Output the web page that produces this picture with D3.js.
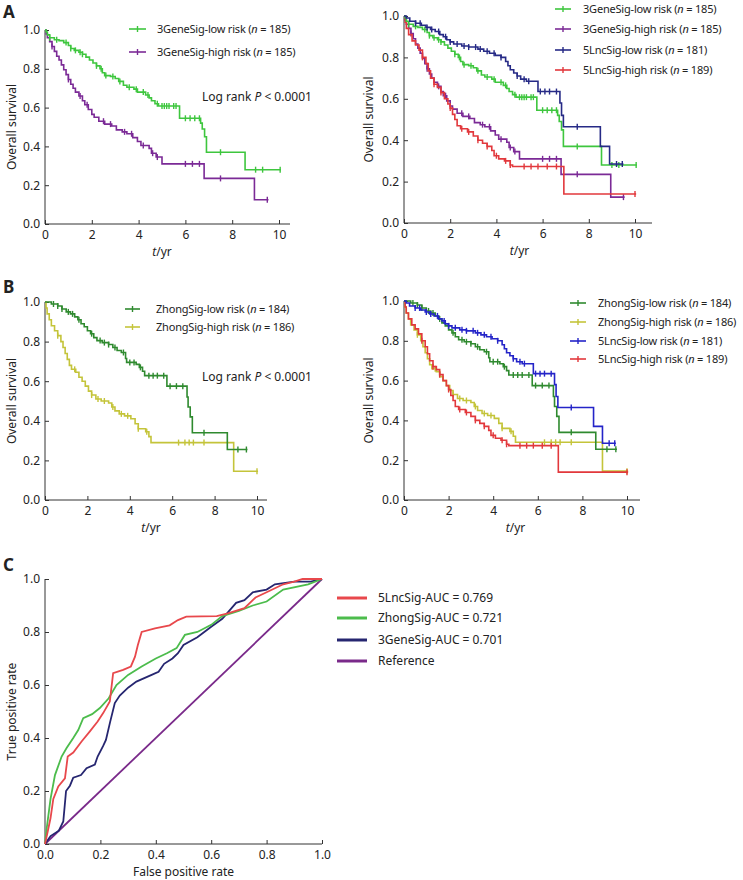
<!DOCTYPE html>
<html>
<head>
<meta charset="utf-8">
<script src="https://cdn.jsdelivr.net/npm/d3@7"></script>
<style>
  body { margin: 0; background: #fff; }
  svg text { font-family: "Noto Sans", "DejaVu Sans", sans-serif; fill: #222; }
</style>
</head>
<body>
<div id="chart"></div>
<script>
const width = 743;
const height = 880;

// Kaplan-Meier step events: [time (yr), survival after drop]
const geneLow = [[0.05,0.99],[0.1,0.975],[0.2,0.96],[0.4,0.95],[0.6,0.945],[0.8,0.935],[1.0,0.92],[1.1,0.905],[1.25,0.895],[1.45,0.885],[1.6,0.875],[1.75,0.86],[1.9,0.845],[2.05,0.83],[2.2,0.815],[2.35,0.8],[2.45,0.78],[2.55,0.765],[2.8,0.76],[3.0,0.75],[3.15,0.735],[3.35,0.715],[3.5,0.705],[3.8,0.695],[3.95,0.68],[4.3,0.665],[4.45,0.65],[4.55,0.635],[4.7,0.62],[4.85,0.608],[5.75,0.545],[6.65,0.52],[6.72,0.49],[6.82,0.45],[6.9,0.37],[8.55,0.28]];
const geneHigh = [[0.05,0.98],[0.1,0.96],[0.2,0.94],[0.3,0.915],[0.4,0.89],[0.5,0.865],[0.6,0.845],[0.7,0.82],[0.8,0.795],[0.9,0.77],[1.0,0.745],[1.1,0.72],[1.2,0.7],[1.3,0.68],[1.45,0.66],[1.6,0.635],[1.7,0.615],[1.85,0.59],[2.0,0.565],[2.1,0.55],[2.3,0.53],[2.55,0.515],[2.85,0.505],[3.05,0.485],[3.3,0.475],[3.5,0.465],[3.75,0.445],[3.95,0.425],[4.1,0.405],[4.45,0.39],[4.55,0.365],[4.75,0.345],[5.0,0.31],[6.8,0.235],[8.95,0.125]];
const lncLow = [[0.1,0.99],[0.25,0.975],[0.5,0.965],[0.75,0.955],[0.95,0.945],[1.15,0.935],[1.35,0.925],[1.55,0.91],[1.7,0.9],[1.85,0.885],[2.0,0.875],[2.15,0.865],[2.5,0.855],[2.8,0.85],[3.2,0.84],[3.45,0.83],[3.7,0.82],[3.95,0.81],[4.2,0.8],[4.4,0.78],[4.5,0.76],[4.6,0.74],[4.75,0.725],[4.9,0.71],[5.05,0.695],[5.3,0.685],[5.8,0.635],[6.75,0.58],[6.82,0.52],[6.9,0.465],[8.5,0.37],[8.9,0.285]];
const lncHigh = [[0.05,0.97],[0.1,0.94],[0.2,0.91],[0.35,0.88],[0.5,0.86],[0.65,0.835],[0.8,0.8],[0.95,0.77],[1.05,0.735],[1.15,0.7],[1.3,0.67],[1.45,0.655],[1.6,0.63],[1.75,0.6],[1.9,0.575],[2.0,0.555],[2.1,0.525],[2.2,0.5],[2.3,0.47],[2.45,0.455],[2.75,0.44],[3.0,0.42],[3.2,0.4],[3.4,0.385],[3.6,0.37],[3.8,0.35],[3.9,0.325],[4.1,0.31],[4.35,0.3],[4.6,0.28],[4.7,0.273],[6.92,0.14]];
const zhongLow = [[0.3,0.99],[0.6,0.98],[0.8,0.965],[1.0,0.95],[1.2,0.94],[1.4,0.925],[1.55,0.91],[1.7,0.89],[1.85,0.875],[2.0,0.855],[2.15,0.84],[2.3,0.82],[2.45,0.805],[2.7,0.795],[3.0,0.785],[3.2,0.77],[3.4,0.755],[3.6,0.745],[3.8,0.715],[3.85,0.695],[4.3,0.685],[4.45,0.67],[4.6,0.65],[4.7,0.628],[5.75,0.575],[6.7,0.52],[6.75,0.47],[6.85,0.42],[6.95,0.34],[8.6,0.255]];
const zhongHigh = [[0.05,0.97],[0.1,0.94],[0.2,0.91],[0.3,0.88],[0.45,0.855],[0.6,0.83],[0.75,0.8],[0.85,0.77],[0.95,0.74],[1.05,0.71],[1.15,0.68],[1.25,0.66],[1.45,0.645],[1.6,0.62],[1.75,0.6],[1.9,0.575],[2.05,0.55],[2.2,0.53],[2.4,0.51],[2.65,0.5],[3.0,0.49],[3.15,0.47],[3.3,0.45],[3.5,0.435],[3.75,0.425],[4.05,0.41],[4.25,0.385],[4.4,0.36],[4.75,0.345],[4.9,0.32],[5.0,0.29],[8.9,0.145]];

// censoring times (yr) and last follow-up
const geneLowCens = [0.2,0.5,0.9,1.1,1.3,1.5,1.6,2.2,2.4,2.6,2.9,3.2,3.6,3.9,4.2,4.4,4.8,5.0,5.1,5.2,5.3,5.5,5.6,6.0,6.2,6.4,6.6,7.5,9.0,9.3,10.05];
const geneHighCens = [0.3,1.0,1.5,1.8,2.5,2.8,3.4,3.7,4.2,4.6,4.8,6.0,6.3,6.6,7.5,9.5];
const lncLowCens = [0.5,0.7,1.0,1.2,1.5,1.8,2.0,2.3,2.6,2.8,3.1,3.3,3.6,3.9,4.2,4.9,5.2,5.4,5.9,6.1,6.3,6.6,7.5,9.2,9.45];
const lncHighCens = [0.8,1.3,1.6,2.0,2.5,2.8,3.2,3.6,4.0,4.4,4.6,5.2,5.5,5.8,6.2,6.6,10.0];
const zhongLowCens = [0.4,0.6,0.8,1.1,1.3,1.6,2.2,2.6,2.8,3.0,3.3,3.7,4.0,4.2,4.5,4.9,5.1,5.3,5.6,5.9,6.2,6.5,7.5,9.1,9.5];
const zhongHighCens = [0.6,1.4,2.2,2.5,2.8,3.2,3.6,3.9,4.4,4.8,6.3,6.6,6.8,7.0,7.5,10.0];
const endTimes = { geneLow: 10.08, geneHigh: 9.55, lncLow: 9.5, lncHigh: 10.05, zhongLow: 9.55, zhongHigh: 10.05 };

const timeTicks = [0, 2, 4, 6, 8, 10];
const survTicks = [0, 0.2, 0.4, 0.6, 0.8, 1.0];

// ROC curves: [false positive rate, true positive rate]
const rocLnc = [[0,0],[0.01,0.048],[0.02,0.098],[0.03,0.17],[0.048,0.217],[0.072,0.248],[0.082,0.33],[0.102,0.345],[0.132,0.387],[0.162,0.425],[0.19,0.462],[0.21,0.494],[0.234,0.538],[0.246,0.645],[0.282,0.657],[0.31,0.67],[0.325,0.707],[0.335,0.75],[0.349,0.8],[0.397,0.814],[0.45,0.825],[0.48,0.845],[0.51,0.858],[0.62,0.86],[0.66,0.87],[0.72,0.89],[0.76,0.93],[0.8,0.95],[0.86,0.98],[0.9,0.99],[0.93,1.0],[1,1]];
const rocZhong = [[0,0],[0.005,0.05],[0.02,0.17],[0.036,0.26],[0.06,0.33],[0.078,0.362],[0.102,0.4],[0.12,0.43],[0.138,0.475],[0.17,0.49],[0.198,0.513],[0.23,0.55],[0.258,0.6],[0.3,0.638],[0.349,0.67],[0.4,0.7],[0.44,0.72],[0.475,0.739],[0.505,0.789],[0.55,0.8],[0.6,0.827],[0.64,0.86],[0.7,0.88],[0.75,0.9],[0.8,0.915],[0.86,0.96],[0.95,0.98],[1,1]];
const rocGene = [[0,0],[0.02,0.03],[0.05,0.05],[0.066,0.085],[0.076,0.2],[0.09,0.22],[0.102,0.25],[0.13,0.26],[0.15,0.286],[0.18,0.3],[0.19,0.33],[0.21,0.37],[0.22,0.393],[0.235,0.46],[0.252,0.532],[0.27,0.56],[0.3,0.59],[0.33,0.613],[0.385,0.638],[0.41,0.65],[0.43,0.68],[0.46,0.7],[0.48,0.72],[0.5,0.751],[0.55,0.78],[0.6,0.82],[0.64,0.85],[0.69,0.91],[0.72,0.92],[0.75,0.95],[0.8,0.96],[0.83,0.98],[0.9,0.99],[0.96,0.99],[1,1]];
const rocRef = [[0,0],[1,1]];
const rateTicks = [0, 0.2, 0.4, 0.6, 0.8, 1.0];

const C = {
  geneLow: "#3ec63e", geneHigh: "#7b2a96", lncLowA: "#262a86", lncHigh: "#e2383c",
  zhongLow: "#2f8a2f", zhongHigh: "#c4c43a", lncLowB: "#2424c8",
  rocLnc: "#e8484c", rocZhong: "#4cbc4c", rocGene: "#262670", rocRef: "#7a2a8a"
};

const series = {
  geneLow:  { ev: geneLow,  cens: geneLowCens,  end: endTimes.geneLow },
  geneHigh: { ev: geneHigh, cens: geneHighCens, end: endTimes.geneHigh },
  lncLow:   { ev: lncLow,   cens: lncLowCens,   end: endTimes.lncLow },
  lncHigh:  { ev: lncHigh,  cens: lncHighCens,  end: endTimes.lncHigh },
  zhongLow: { ev: zhongLow, cens: zhongLowCens, end: endTimes.zhongLow },
  zhongHigh:{ ev: zhongHigh,cens: zhongHighCens,end: endTimes.zhongHigh }
};

const svg = d3.select("#chart").append("svg")
  .attr("width", width).attr("height", height);

function survAt(ev, t) {
  let s = 1;
  for (const e of ev) { if (e[0] <= t) s = e[1]; else break; }
  return s;
}

function drawAxes(x, y, axisEnd, xTicks, yTicks, fmtX, yTitle, yTitleX, xTitle) {
  const g = svg.append("g");
  const [x0] = x.range();
  const [y0, y1] = y.range();
  g.append("g").attr("transform", `translate(0,${y0})`)
    .call(d3.axisBottom(x).tickValues(xTicks).tickFormat(fmtX).tickSizeInner(-4).tickSizeOuter(0).tickPadding(6))
    .call(a => a.select(".domain").remove());
  g.append("g").attr("transform", `translate(${x0},0)`)
    .call(d3.axisLeft(y).tickValues(yTicks).tickFormat(d3.format(".1f")).tickSizeInner(-4).tickSizeOuter(0).tickPadding(5))
    .call(a => a.select(".domain").remove());
  g.selectAll(".tick line").attr("stroke", "#333");
  g.selectAll(".tick text").style("font-size", "12px").attr("fill", "#222");
  g.append("line").attr("x1", x0).attr("x2", axisEnd).attr("y1", y0).attr("y2", y0).attr("stroke", "#333");
  g.append("line").attr("x1", x0).attr("x2", x0).attr("y1", y0).attr("y2", y1).attr("stroke", "#333");
  g.append("text").attr("transform", `translate(${yTitleX},${(y0 + y1) / 2}) rotate(-90)`)
    .attr("text-anchor", "middle").attr("dy", "0.35em").style("font-size", "12px").text(yTitle);
  const xt = g.append("text").attr("x", (x.range()[0] + x.range()[1]) / 2).attr("y", y0 + 32)
    .attr("text-anchor", "middle").style("font-size", "12px");
  if (xTitle === "t/yr") {
    xt.append("tspan").style("font-style", "italic").text("t");
    xt.append("tspan").text("/yr");
  } else xt.text(xTitle);
}

function drawKM(x, y, key, color) {
  const s = series[key];
  const pts = [[0, 1], ...s.ev, [s.end, s.ev[s.ev.length - 1][1]]];
  const line = d3.line().x(d => x(d[0])).y(d => y(d[1])).curve(d3.curveStepAfter);
  svg.append("path").datum(pts).attr("d", line)
    .attr("fill", "none").attr("stroke", color).attr("stroke-width", 1.6);
  svg.append("g").selectAll("line").data(s.cens).join("line")
    .attr("x1", d => x(d)).attr("x2", d => x(d))
    .attr("y1", d => y(survAt(s.ev, d)) - 3).attr("y2", d => y(survAt(s.ev, d)) + 3)
    .attr("stroke", color).attr("stroke-width", 1.4);
}

function legend(items, lx0, lx1, tx, ys, fs) {
  items.forEach((it, i) => {
    const g = svg.append("g");
    g.append("line").attr("x1", lx0).attr("x2", lx1).attr("y1", ys[i]).attr("y2", ys[i])
      .attr("stroke", it.color).attr("stroke-width", 1.6);
    g.append("line").attr("x1", (lx0 + lx1) / 2).attr("x2", (lx0 + lx1) / 2)
      .attr("y1", ys[i] - 3).attr("y2", ys[i] + 3).attr("stroke", it.color).attr("stroke-width", 1.4);
    const t = g.append("text").attr("x", tx).attr("y", ys[i]).attr("dy", "0.35em")
      .style("font-size", fs + "px").style("letter-spacing", "-0.2px");
    t.append("tspan").text(it.name + " (");
    t.append("tspan").style("font-style", "italic").text("n");
    t.append("tspan").text(" = " + it.n + ")");
  });
}

function logRank(x, yy) {
  const t = svg.append("text").attr("x", x).attr("y", yy).attr("dy", "0.35em").style("font-size", "12px");
  t.append("tspan").text("Log rank ");
  t.append("tspan").style("font-style", "italic").text("P");
  t.append("tspan").text(" < 0.0001");
}

function panelLabel(t, x, y) {
  svg.append("text").attr("x", x).attr("y", y).style("font-size", "17px").style("font-weight", "bold")
    .attr("fill", "#111").text(t);
}

const fmtInt = d3.format("d");

// ---- A left
{
  const x = d3.scaleLinear().domain([0, 10]).range([45, 279]);
  const y = d3.scaleLinear().domain([0, 1]).range([224, 30]);
  drawAxes(x, y, 290, timeTicks, survTicks, fmtInt, "Overall survival", 12, "t/yr");
  drawKM(x, y, "geneHigh", C.geneHigh);
  drawKM(x, y, "geneLow", C.geneLow);
  legend([{ name: "3GeneSig-low risk", n: 185, color: C.geneLow },
          { name: "3GeneSig-high risk", n: 185, color: C.geneHigh }], 129, 146, 157, [29, 52], 11);
  logRank(202, 97);
  panelLabel("A", 3, 18);
}

// ---- A right
{
  const x = d3.scaleLinear().domain([0, 10]).range([404, 635]);
  const y = d3.scaleLinear().domain([0, 1]).range([223, 16]);
  drawAxes(x, y, 652, timeTicks, survTicks, fmtInt, "Overall survival", 369, "t/yr");
  drawKM(x, y, "geneHigh", C.geneHigh);
  drawKM(x, y, "lncHigh", C.lncHigh);
  drawKM(x, y, "geneLow", C.geneLow);
  drawKM(x, y, "lncLow", C.lncLowA);
  legend([{ name: "3GeneSig-low risk", n: 185, color: C.geneLow },
          { name: "3GeneSig-high risk", n: 185, color: C.geneHigh },
          { name: "5LncSig-low risk", n: 181, color: C.lncLowA },
          { name: "5LncSig-high risk", n: 189, color: C.lncHigh }], 555, 571, 583, [9, 29, 50, 70], 11);
}

// ---- B left
{
  const x = d3.scaleLinear().domain([0, 10]).range([45, 257]);
  const y = d3.scaleLinear().domain([0, 1]).range([500, 302]);
  drawAxes(x, y, 267, timeTicks, survTicks, fmtInt, "Overall survival", 12, "t/yr");
  drawKM(x, y, "zhongHigh", C.zhongHigh);
  drawKM(x, y, "zhongLow", C.zhongLow);
  legend([{ name: "ZhongSig-low risk", n: 184, color: C.zhongLow },
          { name: "ZhongSig-high risk", n: 186, color: C.zhongHigh }], 125, 140, 156, [309, 327], 11);
  logRank(202, 377);
  panelLabel("B", 3, 293);
}

// ---- B right
{
  const x = d3.scaleLinear().domain([0, 10]).range([404, 627]);
  const y = d3.scaleLinear().domain([0, 1]).range([500, 301]);
  drawAxes(x, y, 640, timeTicks, survTicks, fmtInt, "Overall survival", 369, "t/yr");
  drawKM(x, y, "zhongHigh", C.zhongHigh);
  drawKM(x, y, "lncHigh", C.lncHigh);
  drawKM(x, y, "zhongLow", C.zhongLow);
  drawKM(x, y, "lncLow", C.lncLowB);
  legend([{ name: "ZhongSig-low risk", n: 184, color: C.zhongLow },
          { name: "ZhongSig-high risk", n: 186, color: C.zhongHigh },
          { name: "5LncSig-low risk", n: 181, color: C.lncLowB },
          { name: "5LncSig-high risk", n: 189, color: C.lncHigh }], 570, 586, 598, [303, 322, 341, 359], 11);
}

// ---- C ROC
{
  const x = d3.scaleLinear().domain([0, 1]).range([45, 322]);
  const y = d3.scaleLinear().domain([0, 1]).range([844, 579]);
  drawAxes(x, y, 322, rateTicks, rateTicks, d3.format(".1f"), "True positive rate", 12, "False positive rate");
  const line = d3.line().x(d => x(d[0])).y(d => y(d[1]));
  const rocs = [
    { data: rocRef, color: C.rocRef, name: "Reference" },
    { data: rocGene, color: C.rocGene, name: "3GeneSig-AUC = 0.701" },
    { data: rocZhong, color: C.rocZhong, name: "ZhongSig-AUC = 0.721" },
    { data: rocLnc, color: C.rocLnc, name: "5LncSig-AUC = 0.769" }
  ];
  rocs.forEach(r => svg.append("path").datum(r.data).attr("d", line)
    .attr("fill", "none").attr("stroke", r.color).attr("stroke-width", 1.8));
  const legY = [598, 618, 640, 661];
  rocs.slice().reverse().forEach((r, i) => {
    svg.append("line").attr("x1", 337).attr("x2", 367).attr("y1", legY[i]).attr("y2", legY[i])
      .attr("stroke", r.color).attr("stroke-width", 3);
    svg.append("text").attr("x", 378).attr("y", legY[i]).attr("dy", "0.35em")
      .style("font-size", "12px").text(r.name);
  });
  panelLabel("C", 3, 571);
}
</script>
</body>
</html>
